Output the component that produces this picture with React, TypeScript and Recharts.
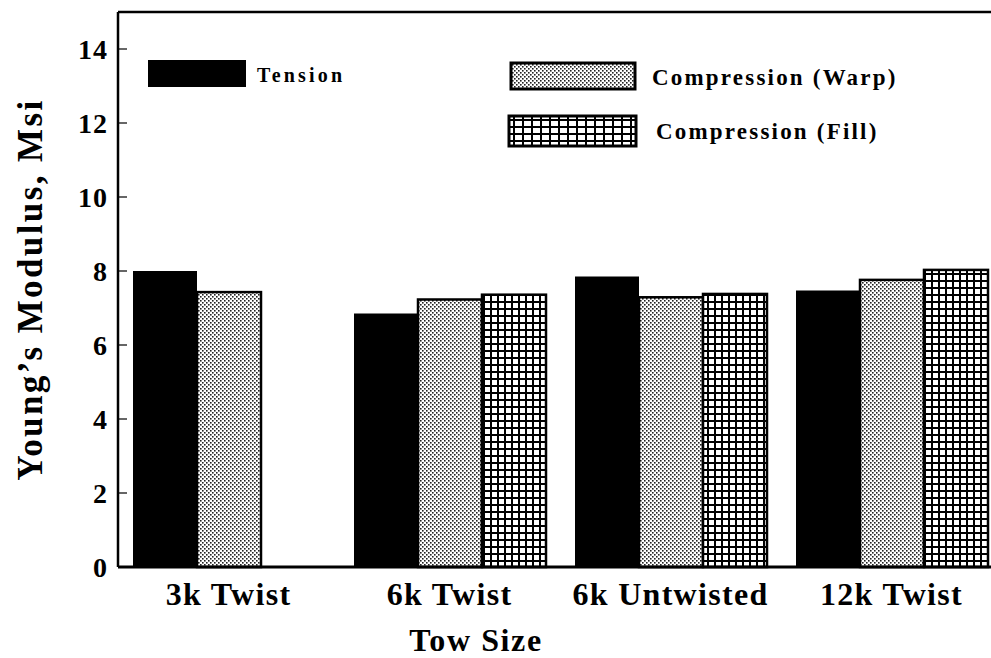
import { BarChart, Bar, XAxis, YAxis, Legend, ReferenceLine } from "recharts";

const towSizes = ["3k Twist", "6k Twist", "6k Untwisted", "12k Twist"];
const tension = [8.0, 6.85, 7.85, 7.47];
const compressionWarp = [7.43, 7.23, 7.29, 7.76];
const compressionFill: (number | null)[] = [null, 7.36, 7.38, 8.03];
const yTicks = [0, 2, 4, 6, 8, 10, 12, 14];

const seriesNames = ["Tension", "Compression (Warp)", "Compression (Fill)"];

const data = towSizes.map((name, i) => ({
  name,
  tension: tension[i],
  warp: compressionWarp[i],
  fill: compressionFill[i],
}));

const FONT = "'Liberation Serif', 'Times New Roman', serif";

function YTick(props: any) {
  const { x, y, payload } = props;
  return (
    <g>
      {payload.value !== 0 && (
        <line x1={x + 10} x2={x + 19} y1={y} y2={y} stroke="#000" strokeWidth={1.2} />
      )}
      <text
        x={x}
        y={y}
        textAnchor="end"
        dominantBaseline="central"
        fontFamily={FONT}
        fontWeight="bold"
        fontSize={28}
        letterSpacing={1}
        fill="#000"
      >
        {payload.value}
      </text>
    </g>
  );
}

function XTick(props: any) {
  const { x, y, payload } = props;
  return (
    <text
      x={x}
      y={y + 38}
      textAnchor="middle"
      fontFamily={FONT}
      fontWeight="bold"
      fontSize={32}
      letterSpacing={1.3}
      fill="#000"
    >
      {payload.value}
    </text>
  );
}

function XLabel(props: any) {
  const { viewBox } = props;
  return (
    <text
      x={viewBox.x + 358}
      y={viewBox.y + 84}
      textAnchor="middle"
      fontFamily={FONT}
      fontWeight="bold"
      fontSize={32}
      letterSpacing={1.6}
      fill="#000"
    >
      Tow Size
    </text>
  );
}

function YLabel(props: any) {
  const { viewBox } = props;
  const cx = viewBox.x + 30;
  const cy = viewBox.y + viewBox.height / 2;
  return (
    <text
      x={cx}
      y={cy}
      transform={`rotate(-90 ${cx} ${cy})`}
      textAnchor="middle"
      dominantBaseline="central"
      fontFamily={FONT}
      fontWeight="bold"
      fontSize={35}
      letterSpacing={2.4}
      fill="#000"
    >
      Young’s Modulus, Msi
    </text>
  );
}

function StipplePattern({ id }: { id: string }) {
  return (
    <pattern id={id} width={4} height={4} patternUnits="userSpaceOnUse">
      <rect width={4} height={4} fill="#fff" />
      <rect x={0} y={0} width={1.6} height={1.6} fill="#222" />
      <rect x={2} y={2} width={1.6} height={1.6} fill="#222" />
    </pattern>
  );
}

function GridPattern({ id, w, h }: { id: string; w: number; h: number }) {
  return (
    <pattern id={id} width={w} height={h} patternUnits="userSpaceOnUse">
      <rect width={w} height={h} fill="#fff" />
      <rect x={0} y={0} width={w} height={2} fill="#000" />
      <rect x={0} y={0} width={2} height={h} fill="#000" />
    </pattern>
  );
}

// each hatched bar carries its own pattern so the url() always resolves inside the chart svg
function makePatternBar(kind: "stipple" | "grid") {
  return (props: any) => {
    const { x, y, width, height, index } = props;
    if (!height || height <= 0) return <g />;
    const id = `${kind}-bar-${index}`;
    return (
      <g>
        <defs>
          {kind === "stipple" ? <StipplePattern id={id} /> : <GridPattern id={id} w={7} h={7} />}
        </defs>
        <rect
          x={x}
          y={y}
          width={width}
          height={height}
          fill={`url(#${id})`}
          stroke="#000"
          strokeWidth={2.5}
        />
      </g>
    );
  };
}

function LegendBox() {
  const textStyle = {
    fontFamily: FONT,
    fontWeight: "bold" as const,
    fill: "#000",
  };
  return (
    <svg width={1010} height={160} style={{ display: "block" }}>
      <defs>
        <StipplePattern id="lgStipple" />
        <GridPattern id="lgGrid" w={9} h={7} />
      </defs>
      <rect x={148} y={60} width={98} height={27} fill="#000" />
      <text x={257} y={75} dominantBaseline="central" fontSize={20} letterSpacing={3.2} {...textStyle}>
        {seriesNames[0]}
      </text>
      <rect x={511} y={63} width={124} height={26} fill="url(#lgStipple)" stroke="#000" strokeWidth={3} />
      <text x={652} y={77} dominantBaseline="central" fontSize={23} letterSpacing={2.2} {...textStyle}>
        {seriesNames[1]}
      </text>
      <rect x={509} y={116} width={127} height={30} fill="url(#lgGrid)" stroke="#000" strokeWidth={3} />
      <text x={656} y={131} dominantBaseline="central" fontSize={23} letterSpacing={2.2} {...textStyle}>
        {seriesNames[2]}
      </text>
    </svg>
  );
}

export default function App() {
  return (
    <div
      style={{
        position: "absolute",
        left: 0,
        top: 0,
        width: 991,
        height: 658,
        overflow: "hidden",
        background: "#fff",
      }}
    >
      <BarChart
        width={1010}
        height={658}
        data={data}
        margin={{ top: 12, right: 8, left: 0, bottom: 0 }}
        barCategoryGap={15}
        barGap={0}
      >
        <XAxis
          dataKey="name"
          height={91}
          axisLine={{ stroke: "#000", strokeWidth: 3 }}
          tickLine={false}
          tickSize={0}
          tickMargin={0}
          tick={<XTick />}
          interval={0}
          label={<XLabel />}
        />
        <YAxis
          width={118}
          domain={[0, 15]}
          ticks={yTicks}
          axisLine={{ stroke: "#000", strokeWidth: 2.5 }}
          tickLine={false}
          tickSize={0}
          tickMargin={10}
          tick={<YTick />}
          label={<YLabel />}
        />
        <ReferenceLine y={15} stroke="#000" strokeWidth={2.5} />
        <Legend
          layout="horizontal"
          verticalAlign="middle"
          align="center"
          wrapperStyle={{ position: "absolute", left: 0, top: 0, width: 1010, height: 160 }}
          content={() => <LegendBox />}
        />
        <Bar dataKey="tension" name={seriesNames[0]} fill="#000" isAnimationActive={false} />
        <Bar
          dataKey="warp"
          name={seriesNames[1]}
          fill="#b0b0b0"
          shape={makePatternBar("stipple")}
          isAnimationActive={false}
        />
        <Bar
          dataKey="fill"
          name={seriesNames[2]}
          fill="#ffffff"
          shape={makePatternBar("grid")}
          isAnimationActive={false}
        />
      </BarChart>
    </div>
  );
}
